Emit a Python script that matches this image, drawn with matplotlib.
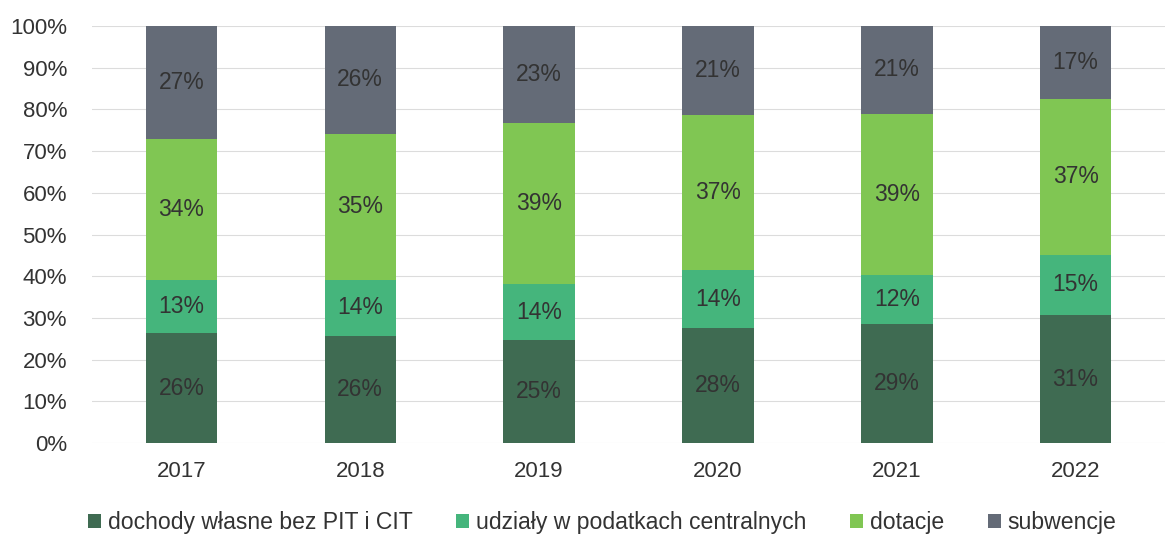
import numpy as np
from matplotlib import pyplot as plt

plt.rcParams['font.family'] = ['Liberation Sans', 'DejaVu Sans']

# Shares of budget revenue [%]
years = ['2017', '2018', '2019', '2020', '2021', '2022']
dochody = [26.4, 25.6, 24.6, 27.6, 28.6, 30.6]
udzialy = [12.6, 13.6, 13.6, 13.8, 11.8, 14.6]
dotacje = [33.9, 35.0, 38.6, 37.3, 38.6, 37.4]
subwencje = [27.1, 25.8, 23.2, 21.3, 21.0, 17.4]

series = [
  ('dochody własne bez PIT i CIT', dochody, '#3f6b52'),
  ('udziały w podatkach centralnych', udzialy, '#45b57c'),
  ('dotacje', dotacje, '#80c653'),
  ('subwencje', subwencje, '#646b77'),
]

fig = plt.figure(figsize=(11.65, 5.41), dpi=100)
ax = fig.add_axes([0.079, 0.181, 0.921, 0.771])

x = np.arange(len(years))
bottom = np.zeros(len(years))
for label, vals, color in series:
  vals = np.array(vals)
  ax.bar(x, vals, width=0.4, bottom=bottom, color=color, label=label, zorder=2)
  for xi, b, v in zip(x, bottom, vals):
    ax.text(xi, b + v / 2, f'{v:.0f}%', ha='center', va='center',
            fontsize=16.5, color='#333333', zorder=3)
  bottom += vals

ax.set_xlim(-0.5, 5.5)
ax.set_ylim(0, 100)
ax.set_yticks(np.arange(0, 101, 10))
ax.set_yticklabels([f'{v}%' for v in range(0, 101, 10)], fontsize=16, color='#333333')
ax.set_xticks(x)
ax.set_xticklabels(years, fontsize=16, color='#333333')
ax.tick_params(length=0)
ax.tick_params(axis='x', pad=13)
ax.tick_params(axis='y', pad=18)
ax.grid(axis='y', color='#dcdcdc', linewidth=0.8, zorder=0)
for s in ax.spines.values():
  s.set_visible(False)

fig.legend(loc='lower center', bbox_to_anchor=(0.517, -0.025), ncol=4, frameon=False,
           fontsize=16.6, handlelength=0.55, handleheight=0.55, handletextpad=0.3,
           columnspacing=1.9, labelcolor='#333333')

plt.savefig('out.png', dpi=100)
